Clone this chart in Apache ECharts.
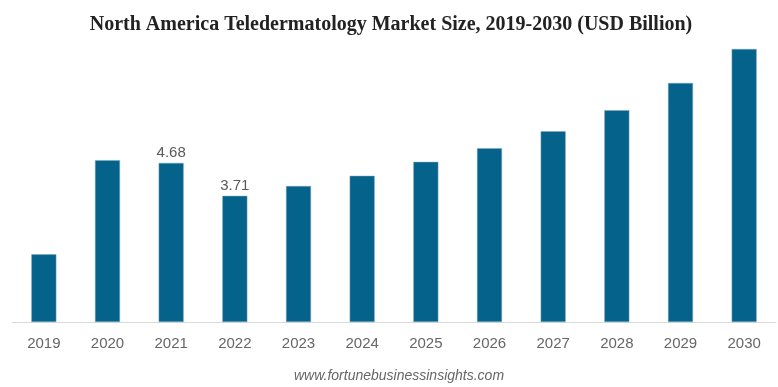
<!DOCTYPE html>
<html>
<head>
<meta charset="utf-8">
<script src="https://cdn.jsdelivr.net/npm/echarts@6/dist/echarts.min.js"></script>
<style>
html,body{margin:0;padding:0;background:#fff;}
#chart{width:778px;height:387px;}
</style>
</head>
<body>
<div id="chart"></div>
<script>
const categories = ['2019','2020','2021','2022','2023','2024','2025','2026','2027','2028','2029','2030'];
const values = [1.99, 4.76, 4.68, 3.71, 4.00, 4.30, 4.71, 5.11, 5.61, 6.23, 7.03, 8.03];
const labeledYears = ['2021','2022'];

const chart = echarts.init(document.getElementById('chart'), null, {renderer:'canvas'});
chart.setOption({
  animation: false,
  backgroundColor: '#fff',
  title: [{
    text: 'North America Teledermatology Market Size, 2019-2030 (USD Billion)',
    left: 386, textAlign: 'center', top: 10,
    textStyle: {fontFamily: 'Liberation Serif', fontWeight: 'bold', fontSize: 20, color: '#222'}
  },{
    text: 'www.fortunebusinessinsights.com',
    left: 394, textAlign: 'center', top: 364,
    textStyle: {fontFamily: 'Liberation Sans', fontStyle: 'italic', fontWeight: 'normal', fontSize: 14, color: '#666'}
  }],
  grid: {left: 12, right: 2, top: 16, bottom: 65},
  xAxis: {
    type: 'category', data: categories,
    axisLine: {lineStyle: {color: '#d9d9d9', width: 1}},
    axisTick: {show: false},
    axisLabel: {color: '#666', fontSize: 15, fontFamily: 'Liberation Sans', margin: 14}
  },
  yAxis: {
    type: 'value', min: 0, max: 9,
    show: false, splitLine: {show: false}
  },
  series: [{
    type: 'bar', data: values.map((v, i) => ({
      value: v,
      label: {show: labeledYears.includes(categories[i])}
    })),
    barWidth: 25,
    itemStyle: {color: '#05628a', borderColor: '#7fa9bd', borderWidth: 0.5},
    label: {position: 'top', distance: 3, color: '#595959', fontSize: 15, fontFamily: 'Liberation Sans', formatter: p => p.value.toFixed(2)}
  }]
});
</script>
</body>
</html>
